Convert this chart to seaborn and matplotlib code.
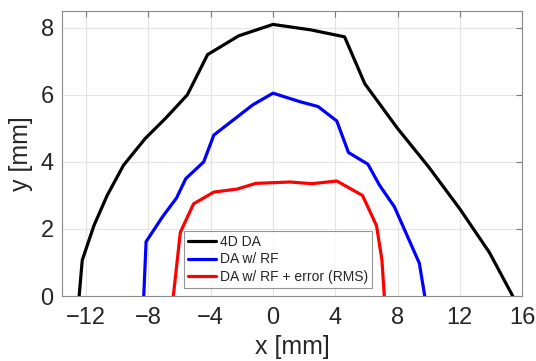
import numpy as np
import pandas as pd
import matplotlib
matplotlib.use("Agg")
import matplotlib.pyplot as plt
import seaborn as sns

# boundary points, x / y in mm
da4d_x = [-12.45, -12.25, -11.5, -10.65, -9.6, -8.2, -6.9, -5.5, -4.2, -2.2, 0.0, 2.4, 4.6, 5.9, 8.0, 10.0, 12.0, 13.9, 15.4]
da4d_y = [0.0, 1.07, 2.1, 3.0, 3.9, 4.7, 5.3, 6.0, 7.2, 7.76, 8.1, 7.94, 7.73, 6.33, 5.0, 3.85, 2.6, 1.3, 0.0]

darf_x = [-8.3, -8.15, -7.1, -6.2, -5.6, -4.45, -3.8, -1.3, 0.0, 1.7, 2.9, 4.1, 4.85, 6.1, 6.85, 7.8, 9.4, 9.75]
darf_y = [0.0, 1.62, 2.36, 2.92, 3.5, 4.0, 4.8, 5.7, 6.05, 5.8, 5.65, 5.22, 4.28, 3.93, 3.3, 2.66, 0.98, 0.0]

err_x = [-6.4, -5.95, -5.1, -3.8, -2.3, -1.1, 0.0, 1.1, 2.5, 4.1, 5.75, 6.65, 7.0, 7.15]
err_y = [0.0, 1.9, 2.75, 3.1, 3.19, 3.36, 3.38, 3.4, 3.35, 3.43, 3.0, 2.1, 1.07, 0.0]

labels = ["4D DA", "DA w/ RF", "DA w/ RF + error (RMS)"]
colors = ["black", "blue", "red"]

frames = []
for lab, xs, ys in zip(labels, [da4d_x, darf_x, err_x], [da4d_y, darf_y, err_y]):
    frames.append(pd.DataFrame({"x": xs, "y": ys, "case": lab, "order": range(len(xs))}))
df = pd.concat(frames, ignore_index=True)

sns.set_style("white")
plt.rcParams['font.family'] = ['Liberation Sans', 'DejaVu Sans']
txt = '#262626'

fig = plt.figure(figsize=(5.36, 3.61), dpi=100)
ax = fig.add_axes([0.1157, 0.18, 0.8583, 0.7895])

sns.lineplot(data=df, x="x", y="y", hue="case", palette=dict(zip(labels, colors)),
             sort=False, estimator=None, units="case", linewidth=2.3, ax=ax)

ax.set_xlim(-13.55, 16)
ax.set_ylim(0, 8.5)
ax.set_xticks([-12, -8, -4, 0, 4, 8, 12, 16])
ax.set_yticks([0, 2, 4, 6, 8])
ax.grid(True, color='#e3e3e3', linewidth=0.8)
ax.tick_params(direction='in', length=4, color='#7a7a7a', labelsize=17, labelcolor=txt,
               top=True, right=True)
ax.tick_params(axis='x', pad=8)
ax.tick_params(axis='y', pad=6)
for s in ax.spines.values():
    s.set_color('#8a8a8a')
    s.set_linewidth(0.8)

ax.set_xlabel("x [mm]", fontsize=18, color=txt, labelpad=4)
ax.set_ylabel("y [mm]", fontsize=18, color=txt, labelpad=5)

leg = ax.legend(loc='lower left', bbox_to_anchor=(0.265, 0.028), borderaxespad=0,
                fontsize=10, frameon=True, fancybox=False, handlelength=2.0,
                handletextpad=0.3, borderpad=0.3, labelspacing=0.25)
leg.get_frame().set_edgecolor('#7a7a7a')
leg.get_frame().set_linewidth(0.8)
for t in leg.get_texts():
    t.set_color(txt)

fig.savefig("out.png", dpi=100)
